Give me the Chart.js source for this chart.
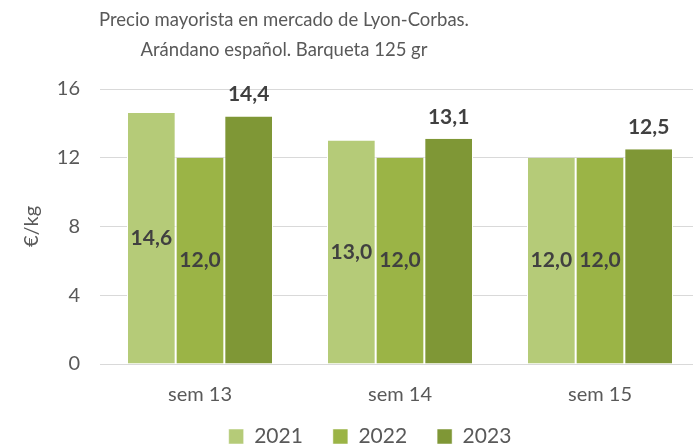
<!DOCTYPE html>
<html>
<head>
<meta charset="utf-8">
<script src="https://cdn.jsdelivr.net/npm/chart.js@4"></script>
<style>
  body { margin: 0; background: #fff; overflow: hidden; }
</style>
</head>
<body>
<canvas id="myChart" width="700" height="446"></canvas>
<script>
const weeks = ["sem 13", "sem 14", "sem 15"];
const years = ["2021", "2022", "2023"];
const v2021 = [14.6, 13.0, 12.0];
const v2022 = [12.0, 12.0, 12.0];
const v2023 = [14.4, 13.1, 12.5];
const yTicks = [0, 4, 8, 12, 16];
const titleLines = ["Precio mayorista en mercado de Lyon-Corbas.", "Arándano español. Barqueta 125 gr"];

const FONT = "Lato, 'Open Sans', sans-serif";
const grey = "#595959";

// title is drawn off-centre in the original, so do it by hand
const titlePlugin = {
  id: "offTitle",
  afterDraw(chart) {
    const c = chart.ctx;
    c.save();
    c.font = "18.5px " + FONT;
    c.fillStyle = grey;
    c.textAlign = "center";
    c.textBaseline = "middle";
    c.fillText(titleLines[0], 284, 20);
    c.fillText(titleLines[1], 284, 50);
    c.restore();
  }
};

// nudge the legend up and right, to sit where the original has it
const legendNudge = {
  id: "legendNudge",
  afterLayout(chart) {
    const lg = chart.legend;
    lg.top -= 12;
    lg.left += 20; lg.right += 20;
  }
};

// value labels: first two series inside the bar, last one above it
const valueLabels = {
  id: "valueLabels",
  afterDatasetsDraw(chart) {
    const c = chart.ctx;
    c.save();
    c.font = "bold 21px " + FONT;
    c.fillStyle = "#404040";
    c.textAlign = "center";
    c.textBaseline = "middle";
    chart.data.datasets.forEach((ds, i) => {
      chart.getDatasetMeta(i).data.forEach((bar, j) => {
        const txt = ds.data[j].toFixed(1).replace(".", ",");
        let y;
        if (i < 2) y = (bar.y + bar.base) / 2;
        else y = bar.y - 22;
        c.fillText(txt, bar.x, y);
      });
    });
    c.restore();
  }
};

new Chart(document.getElementById("myChart"), {
  type: "bar",
  data: {
    labels: weeks,
    datasets: [
      { label: years[0], data: v2021, backgroundColor: "#b5cb78" },
      { label: years[1], data: v2022, backgroundColor: "#9bb446" },
      { label: years[2], data: v2023, backgroundColor: "#7f9736" },
    ].map(d => Object.assign(d, {
      borderColor: "#ffffff",
      borderWidth: { left: 1, right: 1, top: 0, bottom: 0 },
      categoryPercentage: 0.73,
      barPercentage: 1,
    })),
  },
  options: {
    responsive: false,
    animation: false,
    layout: { padding: { top: 89, right: 0, left: 0, bottom: 0 } },
    scales: {
      y: {
        min: 0,
        max: 16,
        afterBuildTicks: (axis) => { axis.ticks = yTicks.map(v => ({ value: v })); },
        afterFit: (axis) => { axis.width = 100; },
        grid: { color: "#d9d9d9", drawTicks: false },
        border: { display: false },
        ticks: { color: grey, font: { family: FONT, size: 20 }, padding: 20 },
        title: { display: true, text: "€/kg", color: grey, font: { family: FONT, size: 20 }, padding: { top: 20, bottom: 0 } },
      },
      x: {
        afterFit: (axis) => { axis.height = 44; },
        grid: { display: false, drawTicks: false },
        border: { color: "#d9d9d9" },
        ticks: { color: grey, font: { family: FONT, size: 20 }, padding: 19 },
      },
    },
    plugins: {
      legend: {
        position: "bottom",
        maxHeight: 38,
        labels: {
          color: grey,
          font: { family: FONT, size: 21 },
          boxWidth: 15,
          boxHeight: 15,
          padding: 30,
        },
      },
      tooltip: { enabled: false },
    },
  },
  plugins: [titlePlugin, legendNudge, valueLabels],
});
</script>
</body>
</html>
